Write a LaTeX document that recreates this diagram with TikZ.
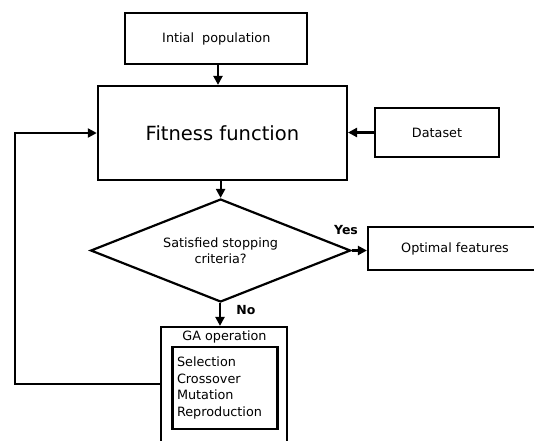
\documentclass[tikz,border=0pt]{standalone}
\usepackage{fontspec}
\setmainfont{DejaVu Sans}
\usepackage{tikz}
\usetikzlibrary{shapes.geometric,arrows.meta}

\tikzset{
    box/.style={draw,line width=2.2pt,rectangle,inner sep=0pt,font=\fontsize{12.8}{16.5}\selectfont},
    decision/.style={draw,line width=2.2pt,diamond,aspect=2.5,inner sep=0pt,
        minimum width=260pt,minimum height=103pt,align=center,font=\fontsize{12.8}{16.5}\selectfont},
    flow/.style={line width=2.2pt,-{Triangle[length=9pt,width=9pt]}},
    answer/.style={font=\bfseries\fontsize{12.5}{14}\selectfont}
}

\begin{document}
\begin{tikzpicture}[x=1pt,y=-1pt]
    \useasboundingbox (0,0) rectangle (534,440);
    \node[box,minimum width=182pt,minimum height=51pt] (init) at (216.3,38.5) {Intial\ \ population};
    \node[box,minimum width=249pt,minimum height=94pt,font=\fontsize{19.5}{22}\selectfont] (fit) at (222.4,133) {Fitness function};
    \node[box,minimum width=124pt,minimum height=49pt] (data) at (437,132.5) {Dataset};
    \node[decision] (crit) at (220.6,250.5) {Satisfied stopping\\criteria?};
    \node[box,minimum width=174pt,minimum height=43pt] (opt) at (455,248.5) {Optimal features};
    \node[box,minimum width=126pt,minimum height=125pt] (gaop) at (223.8,389.5) {};
    \node[font=\fontsize{12.8}{16.5}\selectfont] (gatitle) at (224.5,337) {GA operation};
    \node[box,minimum width=105pt,minimum height=82pt,align=left,text width=96pt,inner sep=4.5pt] (gaops) at (225,388) {Selection\\Crossover\\Mutation\\Reproduction};
    \node[answer] (yes) at (346,230) {Yes};
    \node[answer] (no) at (246,310.5) {No};
    \coordinate (back) at (15,384);

    % arrows
    \draw[flow] (init.south -| 218,0) -- (fit.north -| 218,0);
    \draw[flow] (data) -- (data -| fit.east);
    \draw[flow] (fit.south -| crit.north) -- (crit.north);
    \draw[flow] (crit.east) -- (opt.west |- crit.east);
    \draw[flow] (crit.south -| 220,0) -- (gaop.north -| 220,0);
    \draw[flow] (gaop.west |- back) -- (back) |- (fit.west);
\end{tikzpicture}
\end{document}
